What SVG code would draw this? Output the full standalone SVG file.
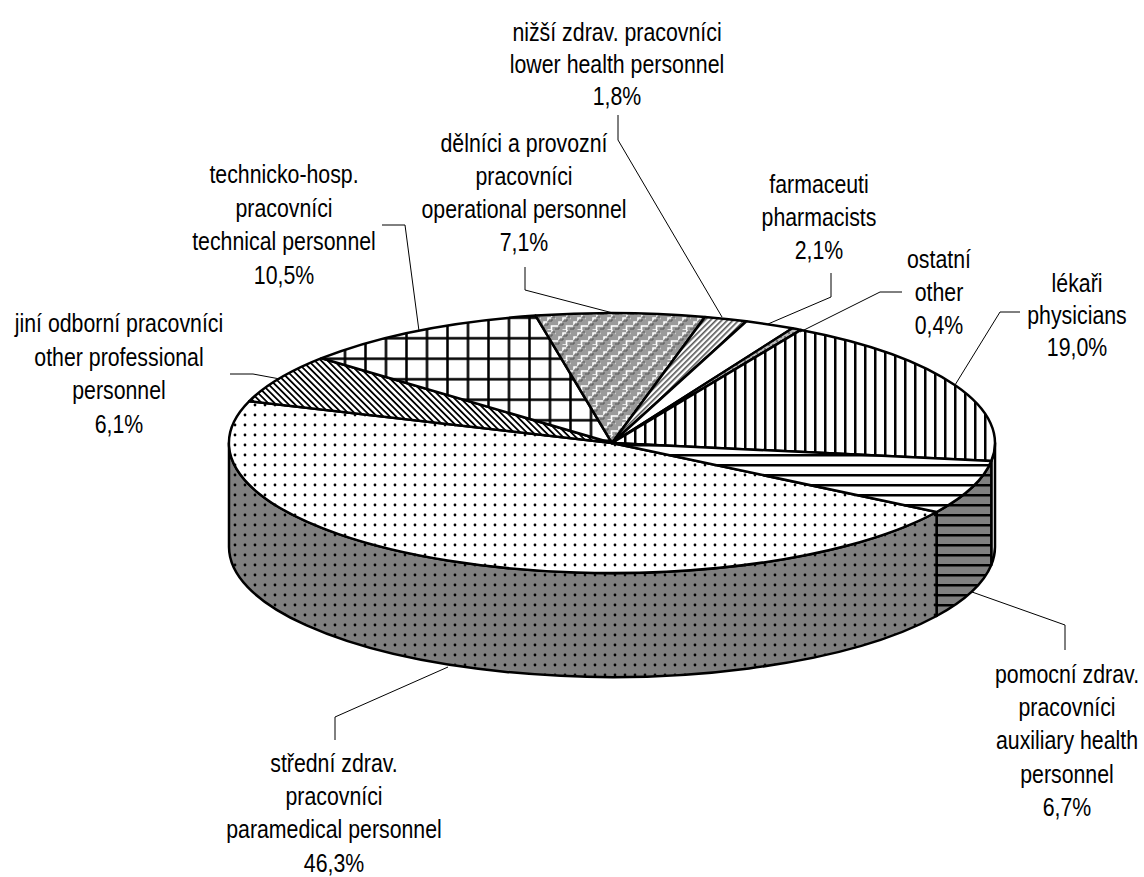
<svg xmlns="http://www.w3.org/2000/svg" width="1144" height="877" viewBox="0 0 1144 877">
<style>
text{font-family:"Liberation Sans Narrow","Liberation Sans",Arial,sans-serif;font-size:26px;fill:#000;text-anchor:middle}
.edge{stroke:#000;stroke-width:2.5;stroke-linejoin:round}
.lead{fill:none;stroke:#000;stroke-width:1}
</style>
<defs>
<pattern id="pGrid" patternUnits="userSpaceOnUse" x="334.75" y="328" width="20.5" height="20.5">
<rect width="20.5" height="20.5" fill="#fff"/><rect x="9" width="2.5" height="20.5" fill="#000"/><rect y="9" width="20.5" height="2.5" fill="#000"/>
</pattern>
<pattern id="pVert" patternUnits="userSpaceOnUse" width="10" height="10">
<rect width="10" height="10" fill="#fff"/><rect x="4" width="2.5" height="10" fill="#000"/>
</pattern>
<pattern id="pHoriz" patternUnits="userSpaceOnUse" width="10" height="10">
<rect width="10" height="10" fill="#fff"/><rect y="4" width="10" height="2.5" fill="#000"/>
</pattern>
<pattern id="pHorizG" patternUnits="userSpaceOnUse" width="10" height="10">
<rect width="10" height="10" fill="#808080"/><rect y="4" width="10" height="2.5" fill="#000"/>
</pattern>
<pattern id="pDots" patternUnits="userSpaceOnUse" width="10" height="10">
<rect width="10" height="10" fill="#fff"/><circle cx="5" cy="5" r="1.4" fill="#000"/>
</pattern>
<pattern id="pDotsG" patternUnits="userSpaceOnUse" width="10" height="10">
<rect width="10" height="10" fill="#808080"/><circle cx="5" cy="5" r="1.4" fill="#000"/>
</pattern>
<pattern id="pDiagDown" patternUnits="userSpaceOnUse" width="4.5" height="4.5" patternTransform="rotate(45)">
<rect width="4.5" height="4.5" fill="#fff"/><rect y="0" width="4.5" height="1.8" fill="#000"/>
</pattern>
<pattern id="pDiagUp" patternUnits="userSpaceOnUse" width="4" height="4" patternTransform="rotate(-45)">
<rect width="4" height="4" fill="#fff"/><rect y="0" width="4" height="1.6" fill="#555"/>
</pattern>
<pattern id="pWeave" patternUnits="userSpaceOnUse" width="15" height="15">
<rect width="15" height="15" fill="#9a9a9a"/>
<path d="M0 11 h4 v-4 h4 v-4 h4 v-4 M7.5 15 h4 v-4 h4 M0 3.5 h0.5" fill="none" stroke="#fff" stroke-width="1.6"/>
<path d="M0 14 h4 v-4 h4 v-4 h4 v-4 h3" fill="none" stroke="#555" stroke-width="1"/>
</pattern>
<pattern id="pOther" patternUnits="userSpaceOnUse" width="4" height="4">
<rect width="4" height="4" fill="#bbb"/><rect width="2" height="2" fill="#777"/>
</pattern>
</defs>

<g id="pie">
<g id="sides">
<path class="edge" fill="url(#pVert)" d="M995,443 A383,130 0 0 1 991.3,461 L991.3,565 A383,130 0 0 0 995,547 Z"/>
<path class="edge" fill="url(#pHorizG)" d="M991.3,461 A383,130 0 0 1 936.6,512 L936.6,616 A383,130 0 0 0 991.3,565 Z"/>
<path class="edge" fill="url(#pDotsG)" d="M936.6,512 A383,130 0 0 1 229,443 L229,547 A383,130 0 0 0 936.6,616 Z"/>
</g>
<g id="s-paramedical"><path class="edge" fill="url(#pDots)" d="M612,443 L936.6,512 A383,130 0 0 1 249.3,401.2 Z"/></g>
<g id="s-other-prof"><path class="edge" fill="url(#pDiagDown)" d="M612,443 L249.3,401.2 A383,130 0 0 1 321.6,358.2 Z"/></g>
<g id="s-technical"><path class="edge" fill="url(#pGrid)" d="M612,443 L321.6,358.2 A383,130 0 0 1 535.6,315.6 Z"/></g>
<g id="s-operational"><path class="edge" fill="url(#pWeave)" d="M612,443 L535.6,315.6 A383,130 0 0 1 705,316.9 Z"/></g>
<g id="s-lower"><path class="edge" fill="url(#pDiagUp)" d="M612,443 L705,316.9 A383,130 0 0 1 746.4,321.3 Z"/></g>
<g id="s-pharm"><path class="edge" fill="#fff" d="M612,443 L746.4,321.3 A383,130 0 0 1 792.4,328.3 Z"/></g>
<g id="s-ostatni"><path class="edge" fill="url(#pOther)" d="M612,443 L792.4,328.3 A383,130 0 0 1 800.9,329.9 Z"/></g>
<g id="s-physicians"><path class="edge" fill="url(#pVert)" d="M612,443 L800.9,329.9 A383,130 0 0 1 991.3,461 Z"/></g>
<g id="s-auxiliary"><path class="edge" fill="url(#pHoriz)" d="M612,443 L991.3,461 A383,130 0 0 1 936.6,512 Z"/></g>
</g>

<g id="connectors">
<polyline class="lead" points="618,115 618,140 722,317"/>
<polyline class="lead" points="525,267 525,290 613,313"/>
<polyline class="lead" points="382,225 405,225 419,331"/>
<polyline class="lead" points="230,374 253,374 280,379"/>
<polyline class="lead" points="831,273 831,297 768,324"/>
<polyline class="lead" points="902,292 880,292 800,332"/>
<polyline class="lead" points="1020,312 1000,312 955,385"/>
<polyline class="lead" points="972,592 1065,625 1065,650"/>
<polyline class="lead" points="448,667 335,717 335,740"/>
</g>

<g id="label-lower">
<text transform="translate(617,41) scale(0.82,1)">nižší zdrav. pracovníci</text>
<text transform="translate(617,73) scale(0.82,1)">lower health personnel</text>
<text transform="translate(617,105) scale(0.82,1)">1,8%</text>
</g>
<g id="label-operational">
<text transform="translate(524,152) scale(0.82,1)">dělníci a provozní</text>
<text transform="translate(524,185) scale(0.82,1)">pracovníci</text>
<text transform="translate(524,218) scale(0.82,1)">operational personnel</text>
<text transform="translate(524,251) scale(0.82,1)">7,1%</text>
</g>
<g id="label-technical">
<text transform="translate(284,183) scale(0.82,1)">technicko-hosp.</text>
<text transform="translate(284,216.5) scale(0.82,1)">pracovníci</text>
<text transform="translate(284,250) scale(0.82,1)">technical personnel</text>
<text transform="translate(284,283.5) scale(0.82,1)">10,5%</text>
</g>
<g id="label-other-prof">
<text transform="translate(119,332) scale(0.82,1)">jiní odborní pracovníci</text>
<text transform="translate(119,365.5) scale(0.82,1)">other professional</text>
<text transform="translate(119,399) scale(0.82,1)">personnel</text>
<text transform="translate(119,432.5) scale(0.82,1)">6,1%</text>
</g>
<g id="label-pharm">
<text transform="translate(819,193) scale(0.82,1)">farmaceuti</text>
<text transform="translate(819,226) scale(0.82,1)">pharmacists</text>
<text transform="translate(819,259) scale(0.82,1)">2,1%</text>
</g>
<g id="label-ostatni">
<text transform="translate(939,268) scale(0.82,1)">ostatní</text>
<text transform="translate(939,301) scale(0.82,1)">other</text>
<text transform="translate(939,334) scale(0.82,1)">0,4%</text>
</g>
<g id="label-physicians">
<text transform="translate(1077,292) scale(0.82,1)">lékaři</text>
<text transform="translate(1077,324) scale(0.82,1)">physicians</text>
<text transform="translate(1077,356) scale(0.82,1)">19,0%</text>
</g>
<g id="label-auxiliary">
<text transform="translate(1067,683) scale(0.82,1)">pomocní zdrav.</text>
<text transform="translate(1067,716) scale(0.82,1)">pracovníci</text>
<text transform="translate(1067,749) scale(0.82,1)">auxiliary health</text>
<text transform="translate(1067,783) scale(0.82,1)">personnel</text>
<text transform="translate(1067,816) scale(0.82,1)">6,7%</text>
</g>
<g id="label-paramedical">
<text transform="translate(334,772) scale(0.82,1)">střední zdrav.</text>
<text transform="translate(334,805) scale(0.82,1)">pracovníci</text>
<text transform="translate(334,838) scale(0.82,1)">paramedical personnel</text>
<text transform="translate(334,872) scale(0.82,1)">46,3%</text>
</g>
</svg>
